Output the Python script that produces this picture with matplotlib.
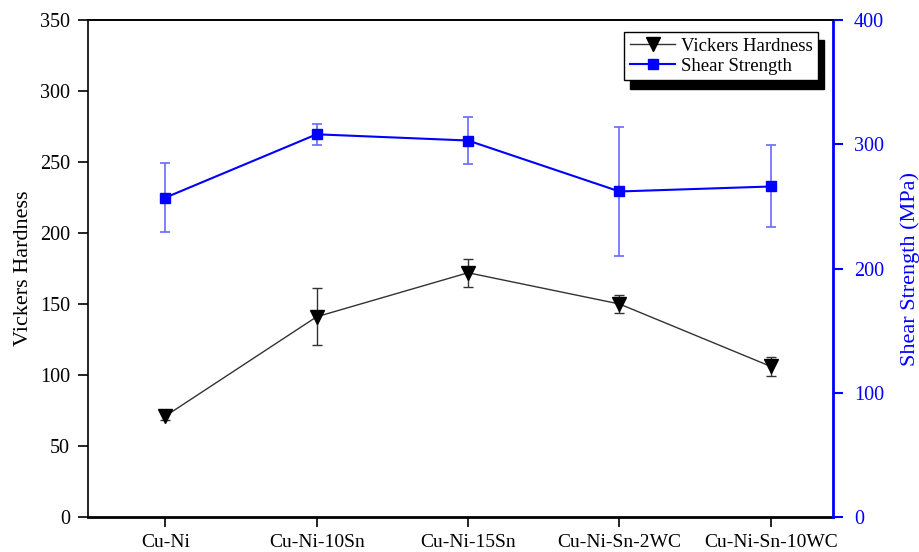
import numpy as np
import matplotlib
matplotlib.use("Agg")
import matplotlib.pyplot as plt

plt.rcParams['font.family'] = ['Liberation Serif', 'DejaVu Serif']

# data
alloys = ['Cu-Ni', 'Cu-Ni-10Sn', 'Cu-Ni-15Sn', 'Cu-Ni-Sn-2WC', 'Cu-Ni-Sn-10WC']
hardness = [71, 141, 172, 150, 106]
hardness_err = [3, 20, 10, 6, 7]
shear = [257, 308, 303, 262, 266]
shear_err = [28, 8.5, 19, 52, 33]

x = np.arange(len(alloys))

fig = plt.figure(figsize=(9.2, 5.52), dpi=100)
ax = fig.add_axes([88/920, 35/552, 745/920, 497/552])
ax2 = ax.twinx()

# hardness, left axis
h1 = ax.errorbar(x, hardness, yerr=hardness_err, color='#333333', lw=1.0,
                 marker='v', ms=9.5, mfc='black', mec='black',
                 ecolor='#333333', elinewidth=1.0, capsize=3.6, capthick=1.0)
# shear strength, right axis
h2 = ax2.errorbar(x, shear, yerr=shear_err, color='blue', lw=1.5,
                  marker='s', ms=7, mfc='blue', mec='blue',
                  ecolor='#6a6aff', elinewidth=1.2, capsize=3.6, capthick=1.2)

ax.set_xlim(-0.51, 4.41)
ax.set_ylim(0, 350)
ax2.set_ylim(0, 400)
ax.set_yticks(np.arange(0, 351, 50))
ax2.set_yticks(np.arange(0, 401, 100))
ax.set_xticks(x)
ax.set_xticklabels(alloys)

ax.tick_params(axis='both', direction='out', length=7, width=1.2, labelsize=14)
ax.tick_params(axis='x', pad=5)
ax.tick_params(axis='y', pad=6, labelsize=14.5)
ax2.tick_params(axis='y', direction='out', length=7, width=1.5, labelsize=14.5,
                colors='blue', pad=8)

ax.set_ylabel('Vickers Hardness', fontsize=16, labelpad=5)
ax2.set_ylabel('Shear Strength (MPa)', fontsize=16, color='blue', labelpad=12)

for sp in ['left', 'top']:
    ax.spines[sp].set_linewidth(1.2)
ax.spines['bottom'].set_linewidth(2.0)
ax2.spines['right'].set_color('blue')
ax2.spines['right'].set_linewidth(2.0)
ax2.spines['left'].set_visible(False)
ax2.spines['top'].set_linewidth(1.2)
ax2.spines['bottom'].set_visible(False)

leg = ax2.legend([h1.lines[0], h2.lines[0]], ['Vickers Hardness', 'Shear Strength'],
                 loc='upper right', bbox_to_anchor=(0.98, 0.976),
                 borderaxespad=0, fontsize=13.5, fancybox=False,
                 edgecolor='black', framealpha=1, handlelength=2.4,
                 handletextpad=0.3, borderpad=0.3, labelspacing=0.15,
                 shadow={'color': 'black', 'alpha': 1, 'ox': 4, 'oy': -6})
leg.get_frame().set_linewidth(1.0)

fig.savefig('out.png', dpi=100)
